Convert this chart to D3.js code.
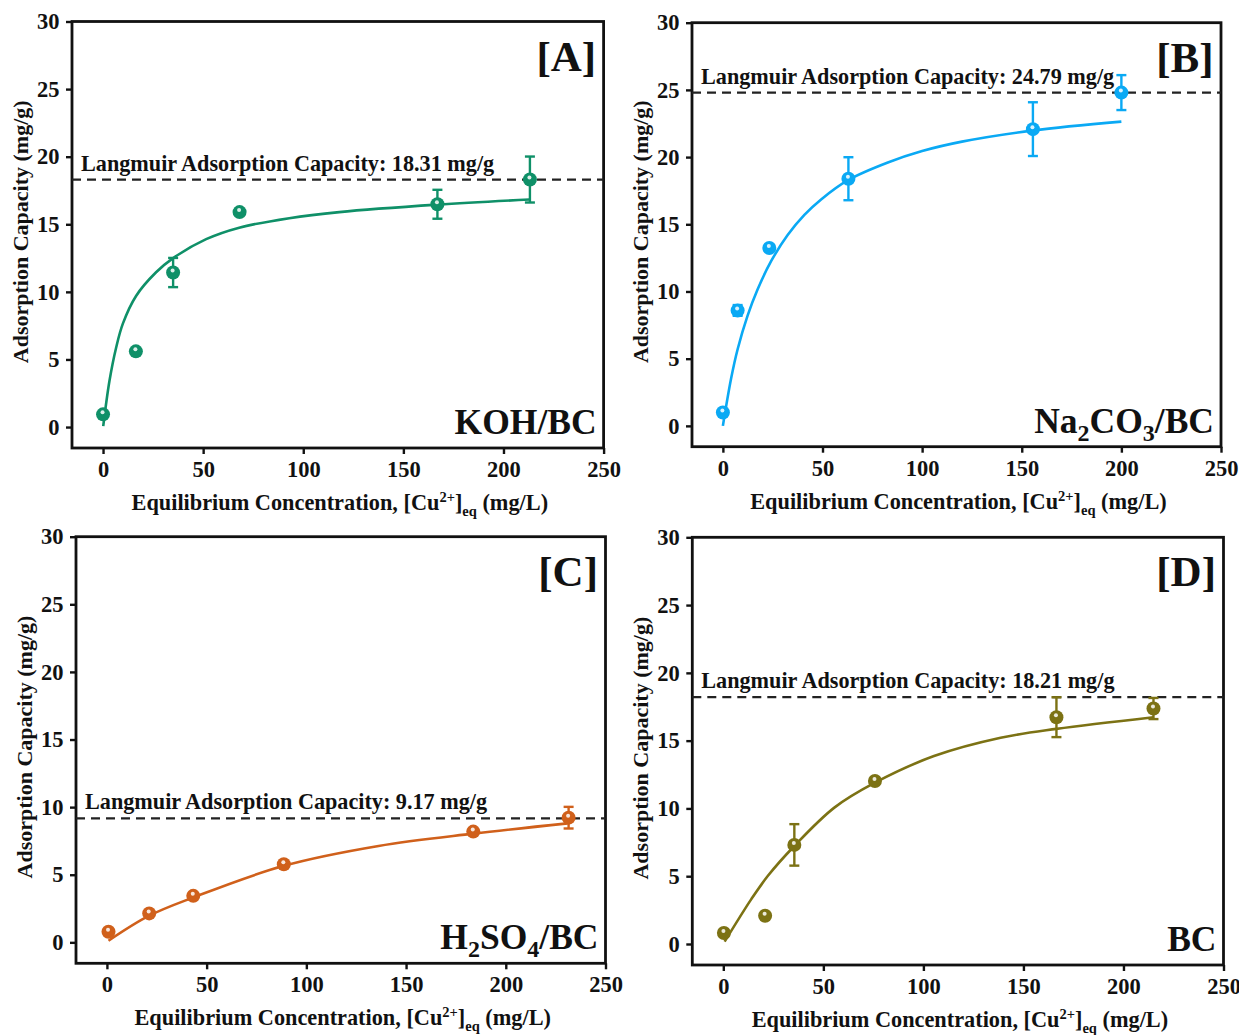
<!DOCTYPE html>
<html>
<head>
<meta charset="utf-8">
<script src="https://cdn.jsdelivr.net/npm/d3@7"></script>
<style>
  body { margin: 0; background: #fff; }
  svg { display: block; }
  text { font-family: "Liberation Serif", "Times New Roman", serif; font-weight: bold; fill: #111; }
</style>
</head>
<body>
<svg id="fig" width="1239" height="1035"></svg>
<script>
// ---- axis ticks ----
const xTicks = [0, 50, 100, 150, 200, 250];
const yTicks = [0, 5, 10, 15, 20, 25, 30];

// ---- KOH/BC ----
const kohC   = [0, 16.4, 35, 68.2, 167, 213.2];
const kohQ   = [0.94, 5.6, 11.43, 15.9, 16.48, 18.31];
const kohErr = [0, 0, 1.08, 0, 1.07, 1.7];
const kohFitC = [0.1, 3.2, 6.5, 9.9, 16.5, 26.5, 35, 51.5, 68, 93, 118, 167, 213];
const kohFitQ = [0.07, 3.4, 5.85, 7.65, 9.7, 11.45, 12.5, 13.9, 14.75, 15.45, 15.9, 16.45, 16.83];
const kohQmax = 18.31;

// ---- Na2CO3/BC ----
const naC   = [0, 7.4, 23.3, 63, 155.6, 200];
const naQ   = [0.99, 8.59, 13.24, 18.39, 22.08, 24.8];
const naErr = [0, 0.4, 0, 1.6, 2.0, 1.3];
const naFitC = [0, 4.1, 7.4, 12.4, 17.4, 24.2, 32.5, 40.9, 49.3, 63, 82.8, 100, 120, 155.6, 200];
const naFitQ = [0, 3.5, 5.7, 8.2, 10.15, 12.25, 14.2, 15.7, 16.85, 18.3, 19.6, 20.45, 21.15, 21.98, 22.64];
const naQmax = 24.79;

// ---- H2SO4/BC ----
const hsC   = [0.8, 21.2, 43.3, 88.7, 183.7, 231.5];
const hsQ   = [0.78, 2.14, 3.44, 5.78, 8.19, 9.22];
const hsErr = [0, 0, 0, 0, 0, 0.8];
const hsFitC = [0.8, 21.2, 43.3, 88.7, 136.2, 183.7, 231];
const hsFitQ = [0.12, 1.97, 3.32, 5.66, 7.13, 8.04, 8.8];
const hsQmax = 9.17;

// ---- BC ----
const bcC   = [0.3, 20.9, 35.5, 75.8, 166.5, 215];
const bcQ   = [0.81, 2.08, 7.31, 12.02, 16.73, 17.37];
const bcErr = [0, 0, 1.53, 0, 1.47, 0.78];
const bcFitC = [0.65, 14, 22.3, 35.5, 55.5, 75.8, 105.3, 138.6, 166.5, 215];
const bcFitQ = [0.17, 3.31, 5.03, 7.23, 10.06, 11.9, 13.86, 15.21, 15.87, 16.73];
const bcQmax = 18.21;

// ---- series colours ----
const colors = ["#0f9068", "#0aa9f4", "#d0601b", "#7c7214"];

// panel frames [left, top, right, bottom] in page pixels
const frames = [
  [72, 21.5, 603.6, 448],
  [692, 22.7, 1221, 446.7],
  [76, 536.7, 605.5, 963.3],
  [692.3, 537.3, 1223.5, 965]
];

const panels = [
  { tag: "[A]", name: [["KOH/BC", 0]], C: kohC, Q: kohQ, E: kohErr, fC: kohFitC, fQ: kohFitQ, qm: kohQmax },
  { tag: "[B]", name: [["Na", 0], ["2", 1], ["CO", 0], ["3", 1], ["/BC", 0]], C: naC, Q: naQ, E: naErr, fC: naFitC, fQ: naFitQ, qm: naQmax },
  { tag: "[C]", name: [["H", 0], ["2", 1], ["SO", 0], ["4", 1], ["/BC", 0]], C: hsC, Q: hsQ, E: hsErr, fC: hsFitC, fQ: hsFitQ, qm: hsQmax },
  { tag: "[D]", name: [["BC", 0]], C: bcC, Q: bcQ, E: bcErr, fC: bcFitC, fQ: bcFitQ, qm: bcQmax }
];

const svg = d3.select("#fig");
svg.append("rect").attr("width", 1239).attr("height", 1035).attr("fill", "#fff");

panels.forEach((p, i) => {
  const [L, T, R, B] = frames[i];
  const col = colors[i];
  const x = d3.scaleLinear().domain([-15.5, 250]).range([L, R]);
  const y = d3.scaleLinear().domain([-1.55, 30]).range([B, T]);
  const g = svg.append("g");

  // axes with outward ticks
  const xa = g.append("g").attr("transform", `translate(0,${B})`)
    .call(d3.axisBottom(x).tickValues(xTicks).tickSize(6).tickSizeOuter(0).tickPadding(7));
  const ya = g.append("g").attr("transform", `translate(${L},0)`)
    .call(d3.axisLeft(y).tickValues(yTicks).tickSize(6).tickSizeOuter(0).tickPadding(6.5));
  [xa, ya].forEach(a => {
    a.select(".domain").remove();
    a.selectAll("line").attr("stroke", "#111").attr("stroke-width", 2.4);
    a.selectAll("text").attr("font-size", 22.5).attr("fill", "#111")
      .style("font-family", '"Liberation Serif", serif').style("font-weight", "bold");
  });

  // frame
  g.append("rect").attr("x", L).attr("y", T).attr("width", R - L).attr("height", B - T)
    .attr("fill", "none").attr("stroke", "#111").attr("stroke-width", 2.8);

  // axis titles
  const xt = g.append("text").attr("x", (L + R) / 2 + 2).attr("y", B + 62)
    .attr("text-anchor", "middle").attr("font-size", 22.3);
  xt.append("tspan").text("Equilibrium Concentration, [Cu");
  xt.append("tspan").text("2+").attr("font-size", 14.5).attr("dy", -8);
  xt.append("tspan").text("]").attr("dy", 8);
  xt.append("tspan").text("eq").attr("font-size", 14.5).attr("dy", 6);
  xt.append("tspan").text(" (mg/L)").attr("dy", -6);

  g.append("text")
    .attr("transform", `translate(${L - 44},${(T + B) / 2 - 3}) rotate(-90)`)
    .attr("text-anchor", "middle").attr("font-size", 22)
    .text("Adsorption Capacity (mg/g)");

  // Langmuir capacity reference line and its label
  g.append("line").attr("x1", L).attr("x2", R).attr("y1", y(p.qm)).attr("y2", y(p.qm))
    .attr("stroke", "#222").attr("stroke-width", 2.2).attr("stroke-dasharray", "9,6");
  g.append("text").attr("x", L + 9).attr("y", y(p.qm) - 9).attr("font-size", 22.2)
    .text(`Langmuir Adsorption Capacity: ${p.qm.toFixed(2)} mg/g`);

  // fitted isotherm
  const fit = p.fC.map((c, k) => [c, p.fQ[k]]);
  g.append("path").datum(fit)
    .attr("d", d3.line().x(d => x(d[0])).y(d => y(d[1])).curve(d3.curveCatmullRom.alpha(0.5)))
    .attr("fill", "none").attr("stroke", col).attr("stroke-width", 2.6);

  // error bars
  const pts = p.C.map((c, k) => ({ c, q: p.Q[k], e: p.E[k] }));
  const eb = g.append("g").attr("stroke", col).attr("stroke-width", 2.4);
  pts.filter(d => d.e > 0).forEach(d => {
    const cx = x(d.c), y1 = y(d.q + d.e), y2 = y(d.q - d.e);
    eb.append("line").attr("x1", cx).attr("x2", cx).attr("y1", y1).attr("y2", y2);
    eb.append("line").attr("x1", cx - 5).attr("x2", cx + 5).attr("y1", y1).attr("y2", y1);
    eb.append("line").attr("x1", cx - 5).attr("x2", cx + 5).attr("y1", y2).attr("y2", y2);
  });

  // markers: solid spheres with a small highlight
  const mk = g.selectAll("g.mk").data(pts).enter().append("g")
    .attr("transform", d => `translate(${x(d.c)},${y(d.q)})`);
  mk.append("circle").attr("r", 7).attr("fill", col);
  mk.append("circle").attr("cx", -0.5).attr("cy", -2).attr("r", 2).attr("fill", "#fff").attr("opacity", 0.85);

  // panel tag
  g.append("text").attr("x", R - 7.5).attr("y", T + 49).attr("text-anchor", "end")
    .attr("font-size", 43).text(p.tag);

  // material name with subscripts
  const nm = g.append("text").attr("x", R - 7).attr("y", B - 14).attr("text-anchor", "end")
    .attr("font-size", 35.5);
  let shifted = false;
  p.name.forEach(([s, sub]) => {
    const t = nm.append("tspan").text(s);
    if (sub && !shifted) { t.attr("font-size", 24).attr("dy", 8); shifted = true; }
    else if (!sub && shifted) { t.attr("dy", -8); shifted = false; }
  });
});
</script>
</body>
</html>
